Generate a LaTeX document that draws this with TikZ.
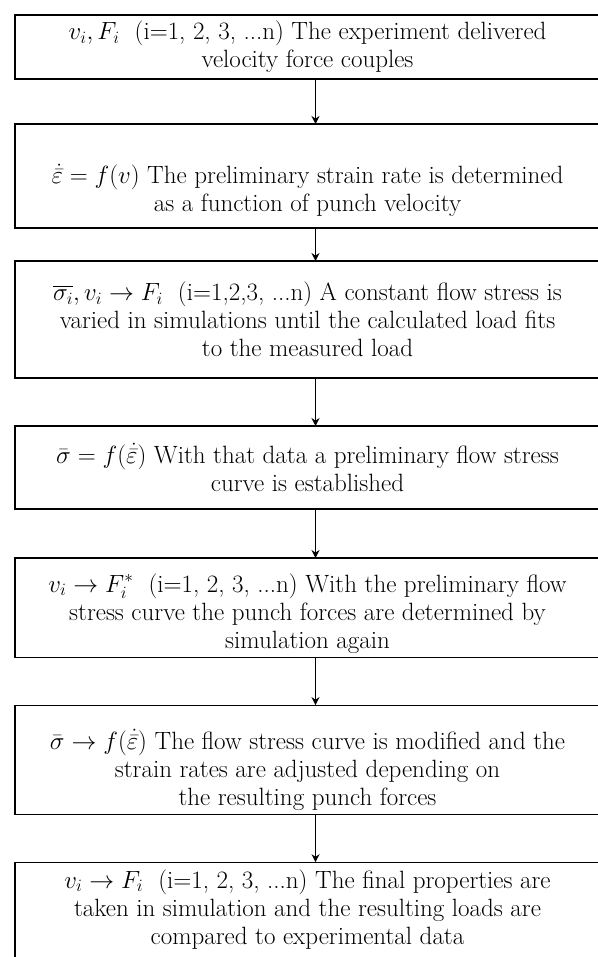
\documentclass[tikz,border=0pt]{standalone}
\usepackage{amsmath,amssymb}
\usepackage{tikz}
\usetikzlibrary{arrows.meta,positioning}
\tikzset{
  flowbox/.style={rectangle,draw=black,line width=1.2pt,outer sep=0pt,align=center,minimum width=585pt,inner sep=4pt,font=\fontsize{25}{28}\selectfont},
  arr/.style={-{Stealth[length=8pt,width=8pt]},line width=1pt,color=black}
}

\begin{document}
\begin{tikzpicture}[x=1pt,y=1pt,node distance=48pt]
  \useasboundingbox (0,0) rectangle (597,-957);
  \node[flowbox,minimum height=64pt,anchor=north] (b1) at (307.5,-15) {$v_i, F_i$\ \ (i=1, 2, 3, ...n) The experiment delivered\\velocity force couples};
  \node[flowbox,minimum height=104pt,below=45pt of b1] (b2) {\rule{0pt}{48pt}$\dot{\bar{\varepsilon}} = f(v)$ The preliminary strain rate is determined\\as a function of punch velocity};
  \node[flowbox,minimum height=117pt,below=33pt of b2] (b3) {$\overline{\sigma_i}, v_i \rightarrow F_i$\ \ (i=1,2,3, ...n) A constant flow stress is\\varied in simulations until the calculated load fits\\to the measured load};
  \node[flowbox,minimum height=83pt,below=of b3] (b4) {$\bar{\sigma} = f(\dot{\bar{\varepsilon}})$ With that data a preliminary flow stress\\curve is established};
  \node[flowbox,minimum height=99pt,below=49pt of b4] (b5) {\rule{0pt}{30pt}$v_i \rightarrow F_i^{*}$\ \ (i=1, 2, 3, ...n) With the preliminary flow\\stress curve the punch forces are determined by\\simulation again};
  \node[flowbox,minimum height=108pt,below=of b5] (b6) {\rule{0pt}{40pt}$\bar{\sigma} \rightarrow f(\dot{\bar{\varepsilon}})$ The flow stress curve is modified and the\\strain rates are adjusted depending on\\the resulting punch forces};
  \node[flowbox,below=48pt of b6] (b7) {\rule{0pt}{22pt}$v_i \rightarrow F_i$\ \ (i=1, 2, 3, ...n) The final properties are\\taken in simulation and the resulting loads are\\compared to experimental data\rule[-30pt]{0pt}{30pt}};
  \foreach \a/\b in {b1/b2,b2/b3,b3/b4,b4/b5,b5/b6,b6/b7}
    \draw[arr] ([xshift=8pt]\a.south) -- ([xshift=8pt]\b.north);
\end{tikzpicture}
\end{document}
